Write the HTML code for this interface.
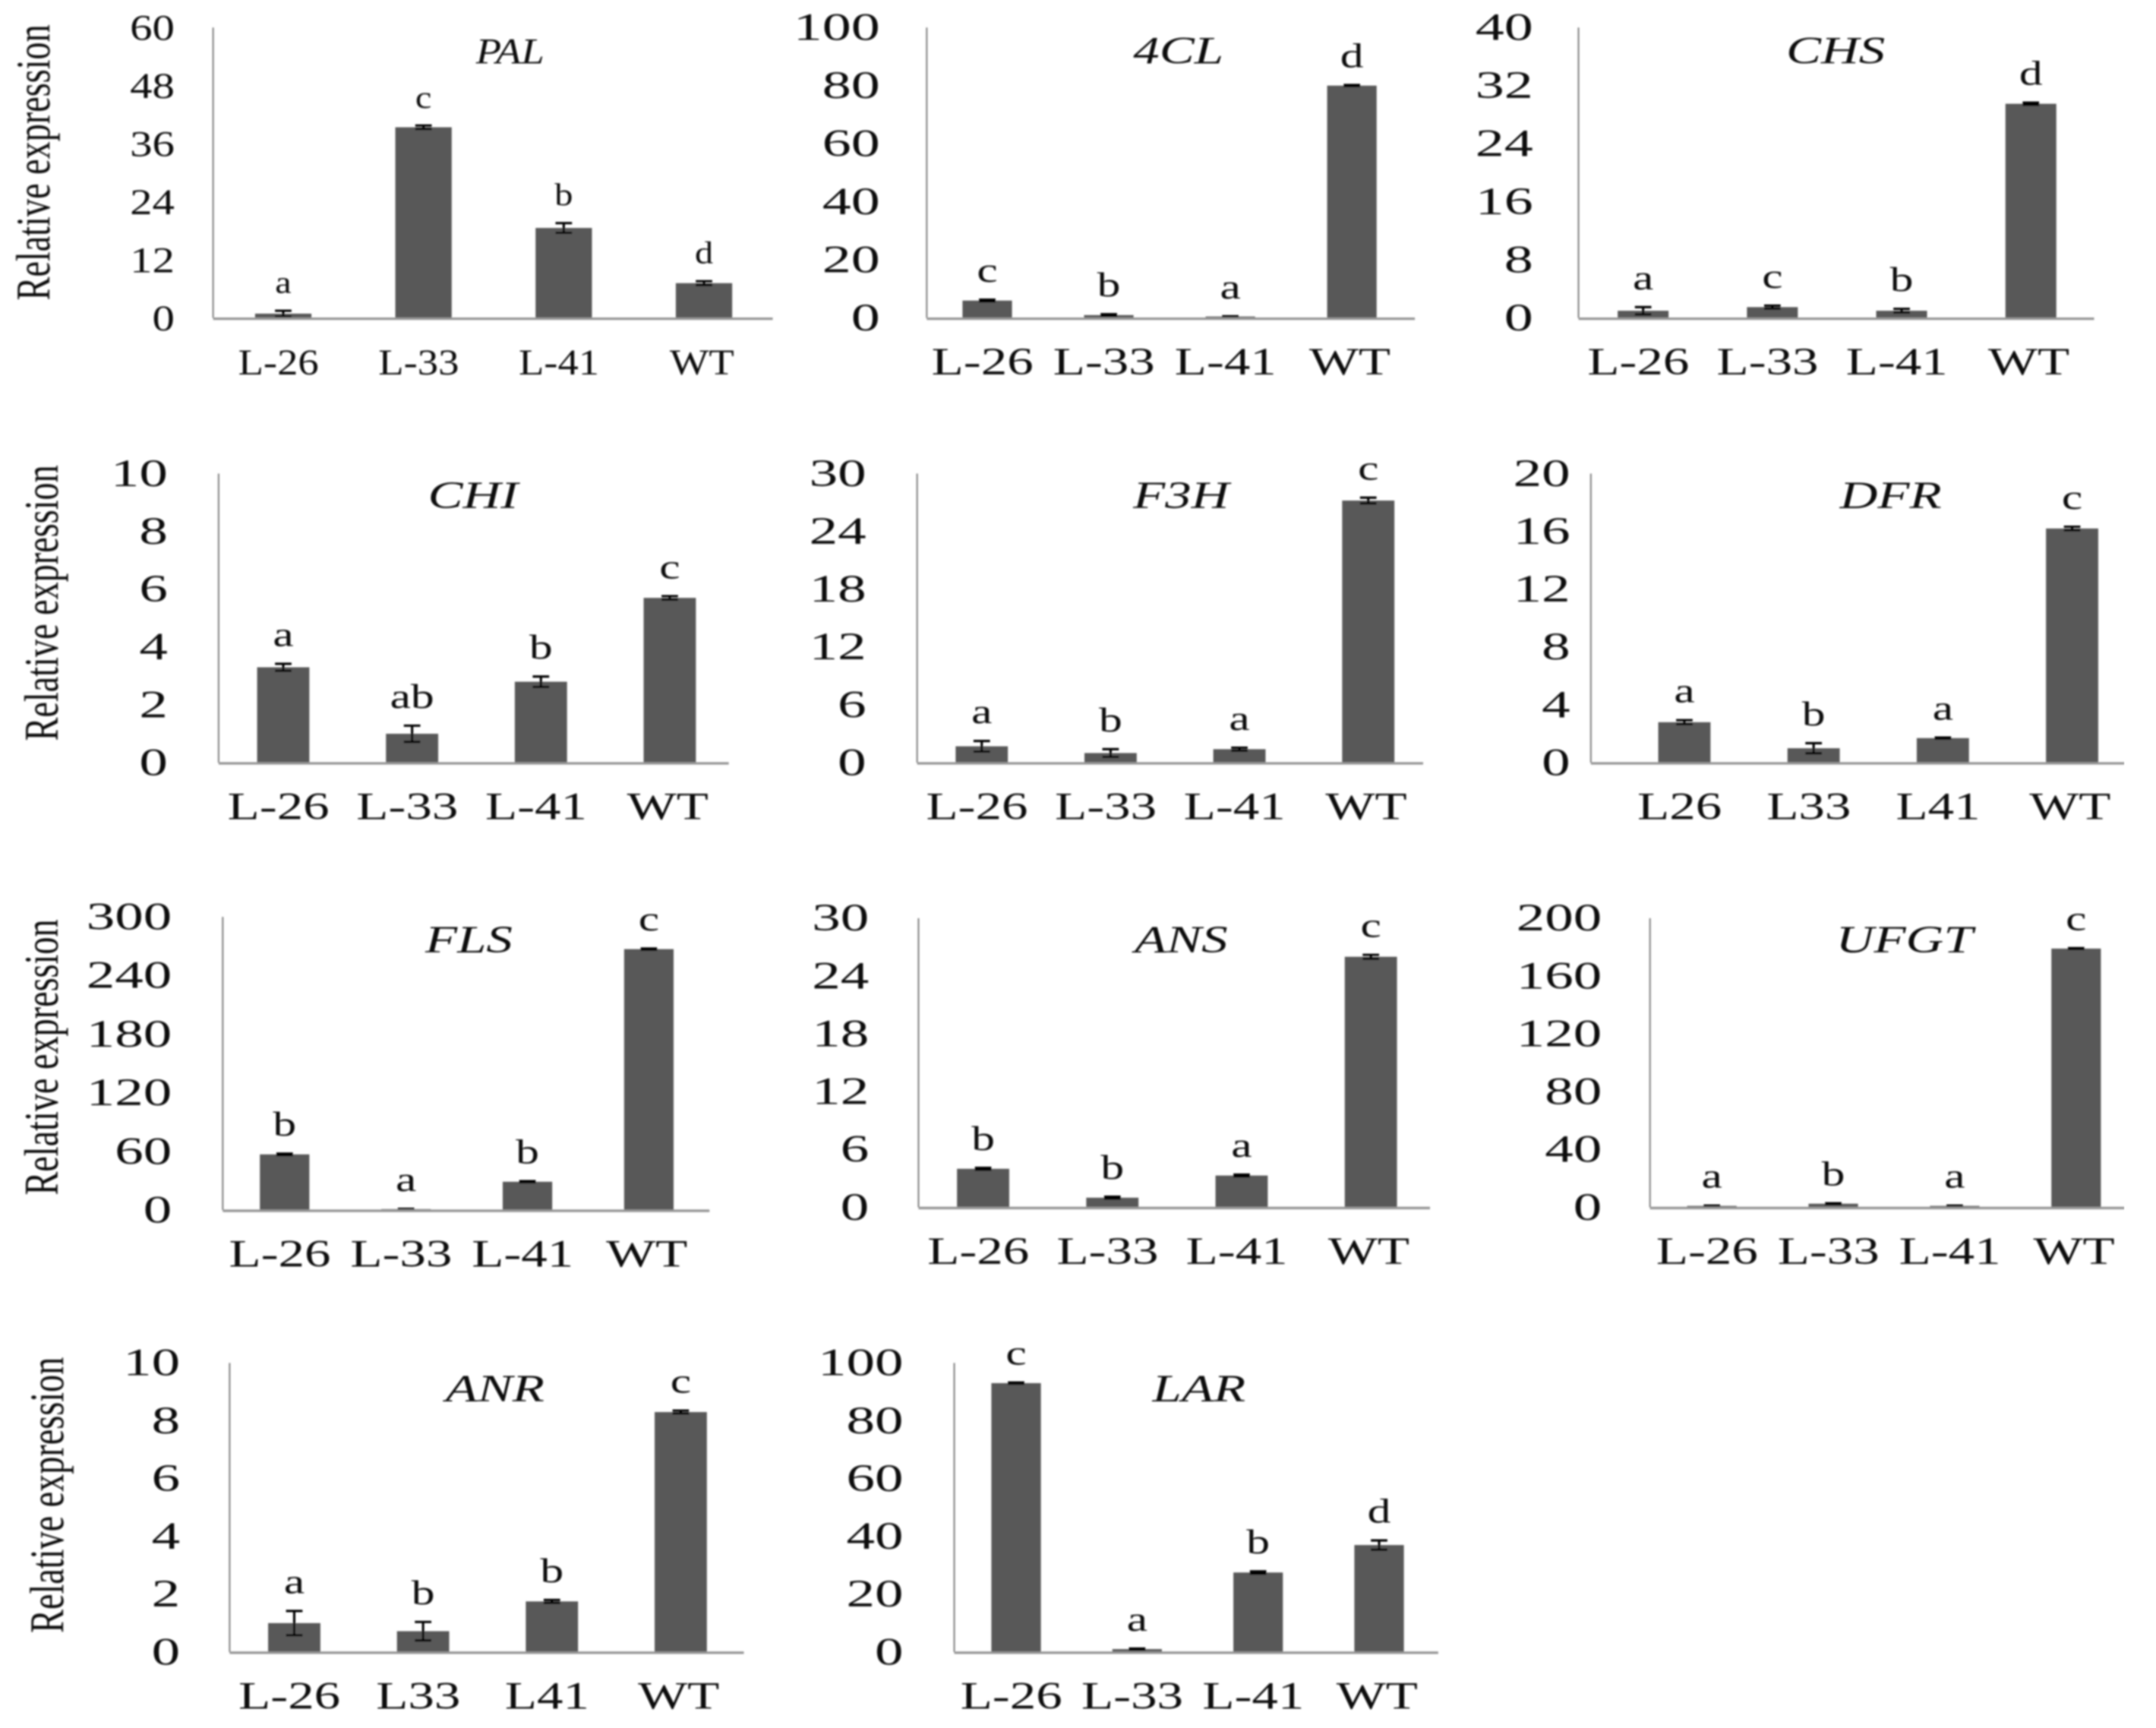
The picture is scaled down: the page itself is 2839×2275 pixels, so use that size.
<!DOCTYPE html>
<html lang="en">
<head>
<meta charset="utf-8">
<title>Relative expression of flavonoid pathway genes</title>
<style>
html,body{margin:0;padding:0;background:#fff;width:2839px;height:2275px;overflow:hidden}
svg{display:block}
text{font-family:"Liberation Serif","Times New Roman",serif;fill:#111}
</style>
</head>
<body>
<svg id="figure" xmlns="http://www.w3.org/2000/svg" width="2839" height="2275" viewBox="0 0 1568 1255.2" preserveAspectRatio="none">
<defs><filter id="soft" x="0" y="0" width="100%" height="100%"><feGaussianBlur stdDeviation="0.6"/></filter></defs>
<g id="root" filter="url(#soft)"></g>
</svg>
<script>
const catsDash = ['L-26','L-33','L-41','WT'];
const catsPlain = ['L26','L33','L41','WT'];
const catsMixed = ['L-26','L33','L41','WT'];

const palValues = [0.9,39.4,18.6,7.2];
const palErrors = [0.6,0.35,1,0.4];
const palLetters = ['a','c','b','d'];
const palTicks = [0,12,24,36,48,60];

const cl4Values = [6,1,0.5,80];
const cl4Errors = [0.3,0.3,0.1,0.2];
const cl4Letters = ['c','b','a','d'];
const cl4Ticks = [0,20,40,60,80,100];

const chsValues = [1,1.5,1,29.5];
const chsErrors = [0.5,0.2,0.25,0.15];
const chsLetters = ['a','c','b','d'];
const chsTicks = [0,8,16,24,32,40];

const chiValues = [3.3,1,2.8,5.7];
const chiErrors = [0.12,0.28,0.18,0.06];
const chiLetters = ['a','ab','b','c'];
const chiTicks = [0,2,4,6,8,10];

const f3hValues = [1.7,1,1.4,27.2];
const f3hErrors = [0.55,0.4,0.15,0.3];
const f3hLetters = ['a','b','a','c'];
const f3hTicks = [0,6,12,18,24,30];

const dfrValues = [2.8,1,1.7,16.2];
const dfrErrors = [0.14,0.35,0.04,0.12];
const dfrLetters = ['a','b','a','c'];
const dfrTicks = [0,4,8,12,16,20];

const flsValues = [57,1,29,267];
const flsErrors = [0.8,0.3,0.6,0.6];
const flsLetters = ['b','a','b','c'];
const flsTicks = [0,60,120,180,240,300];

const ansValues = [4,1,3.3,26];
const ansErrors = [0.1,0.1,0.1,0.2];
const ansLetters = ['b','b','a','c'];
const ansTicks = [0,6,12,18,24,30];

const ufgtValues = [1,2.5,1,179];
const ufgtErrors = [0.2,0.3,0.2,0.3];
const ufgtLetters = ['a','b','a','c'];
const ufgtTicks = [0,40,80,120,160,200];

const anrValues = [1,0.72,1.75,8.3];
const anrErrors = [0.42,0.32,0.05,0.05];
const anrLetters = ['a','b','b','c'];
const anrTicks = [0,2,4,6,8,10];

const larValues = [93,1,27.5,37];
const larErrors = [0.2,0.2,0.4,1.6];
const larLetters = ['c','a','b','d'];
const larTicks = [0,20,40,60,80,100];

const panels = [
 {name:'PAL', cats:catsDash, vals:palValues, errs:palErrors, lets:palLetters, ticks:palTicks,
  ax:155, right:562, top:20, base:231, first:206, step:102, bw:41, tickRight:127, sx:1.16, tsx:1.25, fs:26, titleX:371, titleY:46, yTitleX:36, yTitleY:118},
 {name:'4CL', cats:catsDash, vals:cl4Values, errs:cl4Errors, lets:cl4Letters, ticks:cl4Ticks,
  ax:674, right:1029, top:20, base:231, first:718, step:88.4, bw:36, tickRight:640, sx:1.36, tsx:1.5, fs:28, titleX:857, titleY:46},
 {name:'CHS', cats:catsDash, vals:chsValues, errs:chsErrors, lets:chsLetters, ticks:chsTicks,
  ax:1148, right:1523, top:20, base:231, first:1195, step:94, bw:37, tickRight:1115, sx:1.36, tsx:1.5, fs:28, titleX:1335, titleY:46},
 {name:'CHI', cats:catsDash, vals:chiValues, errs:chiErrors, lets:chiLetters, ticks:chiTicks,
  ax:159, right:530, top:344, base:554, first:206, step:93.7, bw:38, tickRight:122, sx:1.36, tsx:1.48, fs:28, titleX:344, titleY:369, yTitleX:42, yTitleY:438},
 {name:'F3H', cats:catsDash, vals:f3hValues, errs:f3hErrors, lets:f3hLetters, ticks:f3hTicks,
  ax:667, right:1035, top:344, base:554, first:714, step:93.7, bw:38, tickRight:630, sx:1.36, tsx:1.48, fs:28, titleX:859, titleY:369},
 {name:'DFR', cats:catsPlain, vals:dfrValues, errs:dfrErrors, lets:dfrLetters, ticks:dfrTicks,
  ax:1157, right:1545, top:344, base:554, first:1225, step:94, bw:38, tickRight:1142, sx:1.36, tsx:1.48, fs:28, titleX:1375, titleY:369},
 {name:'FLS', cats:catsDash, vals:flsValues, errs:flsErrors, lets:flsLetters, ticks:flsTicks,
  ax:162, right:516, top:666, base:879, first:207, step:88.3, bw:36, tickRight:125, sx:1.36, tsx:1.48, fs:28, titleX:341, titleY:692, yTitleX:42, yTitleY:768},
 {name:'ANS', cats:catsDash, vals:ansValues, errs:ansErrors, lets:ansLetters, ticks:ansTicks,
  ax:668, right:1040, top:667, base:877, first:715, step:94, bw:38, tickRight:632, sx:1.36, tsx:1.48, fs:28, titleX:859, titleY:692},
 {name:'UFGT', cats:catsDash, vals:ufgtValues, errs:ufgtErrors, lets:ufgtLetters, ticks:ufgtTicks,
  ax:1200, right:1545, top:667, base:877, first:1245, step:88.3, bw:36, tickRight:1165, sx:1.36, tsx:1.48, fs:28, titleX:1385, titleY:692},
 {name:'ANR', cats:catsMixed, vals:anrValues, errs:anrErrors, lets:anrLetters, ticks:anrTicks,
  ax:167, right:541, top:990, base:1200, first:214, step:93.7, bw:38, tickRight:131, sx:1.36, tsx:1.48, fs:28, titleX:360, titleY:1018, yTitleX:46, yTitleY:1086},
 {name:'LAR', cats:catsDash, vals:larValues, errs:larErrors, lets:larLetters, ticks:larTicks,
  ax:694, right:1046, top:990, base:1200, first:739, step:88, bw:36, tickRight:657, sx:1.36, tsx:1.48, fs:28, titleX:872, titleY:1018}
];

const NS = 'http://www.w3.org/2000/svg';
const root = document.getElementById('root');

function make(tag, attrs, parent){
  const el = document.createElementNS(NS, tag);
  for (const k in attrs) el.setAttribute(k, attrs[k]);
  parent.appendChild(el);
  return el;
}
function label(parent, str, x, y, sx, fs, anchor, italic){
  const t = make('text', {transform:'translate('+x+' '+y+') scale('+sx+' 1)', 'font-size':fs, 'text-anchor':anchor}, parent);
  if (italic) t.setAttribute('font-style','italic');
  t.textContent = str;
  return t;
}

panels.forEach(function(p){
  const slug = p.name.toLowerCase();
  const maxTick = p.ticks[p.ticks.length-1];
  const yScale = function(v){ return p.base - (v/maxTick)*(p.base-p.top); };
  const xScale = function(i){ return p.first + p.step*i; };

  const g = make('g', {}, root);
  
  

  p.vals.forEach(function(v,i){
    const cx = xScale(i);
    const bar = make('rect', {x:cx-p.bw/2, y:yScale(v), width:p.bw, height:p.base-yScale(v), fill:'#595959'}, g);
    
    

    const e = p.errs[i];
    const eb = make('path', {
      d:'M'+cx+' '+yScale(v+e)+'V'+yScale(v-e)+
        'M'+(cx-6)+' '+yScale(v+e)+'H'+(cx+6)+
        'M'+(cx-6)+' '+yScale(v-e)+'H'+(cx+6),
      stroke:'#000','stroke-width':1.7, fill:'none'}, g);
    
    

    const lt = label(g, p.lets[i], cx, yScale(v+e)-13, p.sx, p.fs-3, 'middle', false);
    
    

    const off = i === 3 ? -1.5 : -3.5;
    const cat = label(g, p.cats[i], cx+off, p.base+41, p.sx, p.fs, 'middle', false);
    
    
  });

  const yAxis = make('line', {x1:p.ax, x2:p.ax, y1:p.top, y2:p.base, stroke:'#808080','stroke-width':1.1}, g);
  
  

  const xAxis = make('line', {x1:p.ax, x2:p.right, y1:p.base+0.5, y2:p.base+0.5, stroke:'#969696','stroke-width':1.8}, g);
  
  

  p.ticks.forEach(function(t){
    const tl = label(g, String(t), p.tickRight, yScale(t)+9, p.tsx, p.fs, 'end', false);
    
    
  });

  const title = label(g, p.name, p.titleX, p.titleY, p.sx, p.fs, 'middle', true);
  
  

  if (p.yTitleX !== undefined){
    const yt = make('text', {transform:'translate('+p.yTitleX+' '+p.yTitleY+') rotate(-90) scale(1 1.38)', 'font-size':25.5, 'text-anchor':'middle'}, g);
    yt.textContent = 'Relative expression';
    
    
  }
});
</script>
</body>
</html>
